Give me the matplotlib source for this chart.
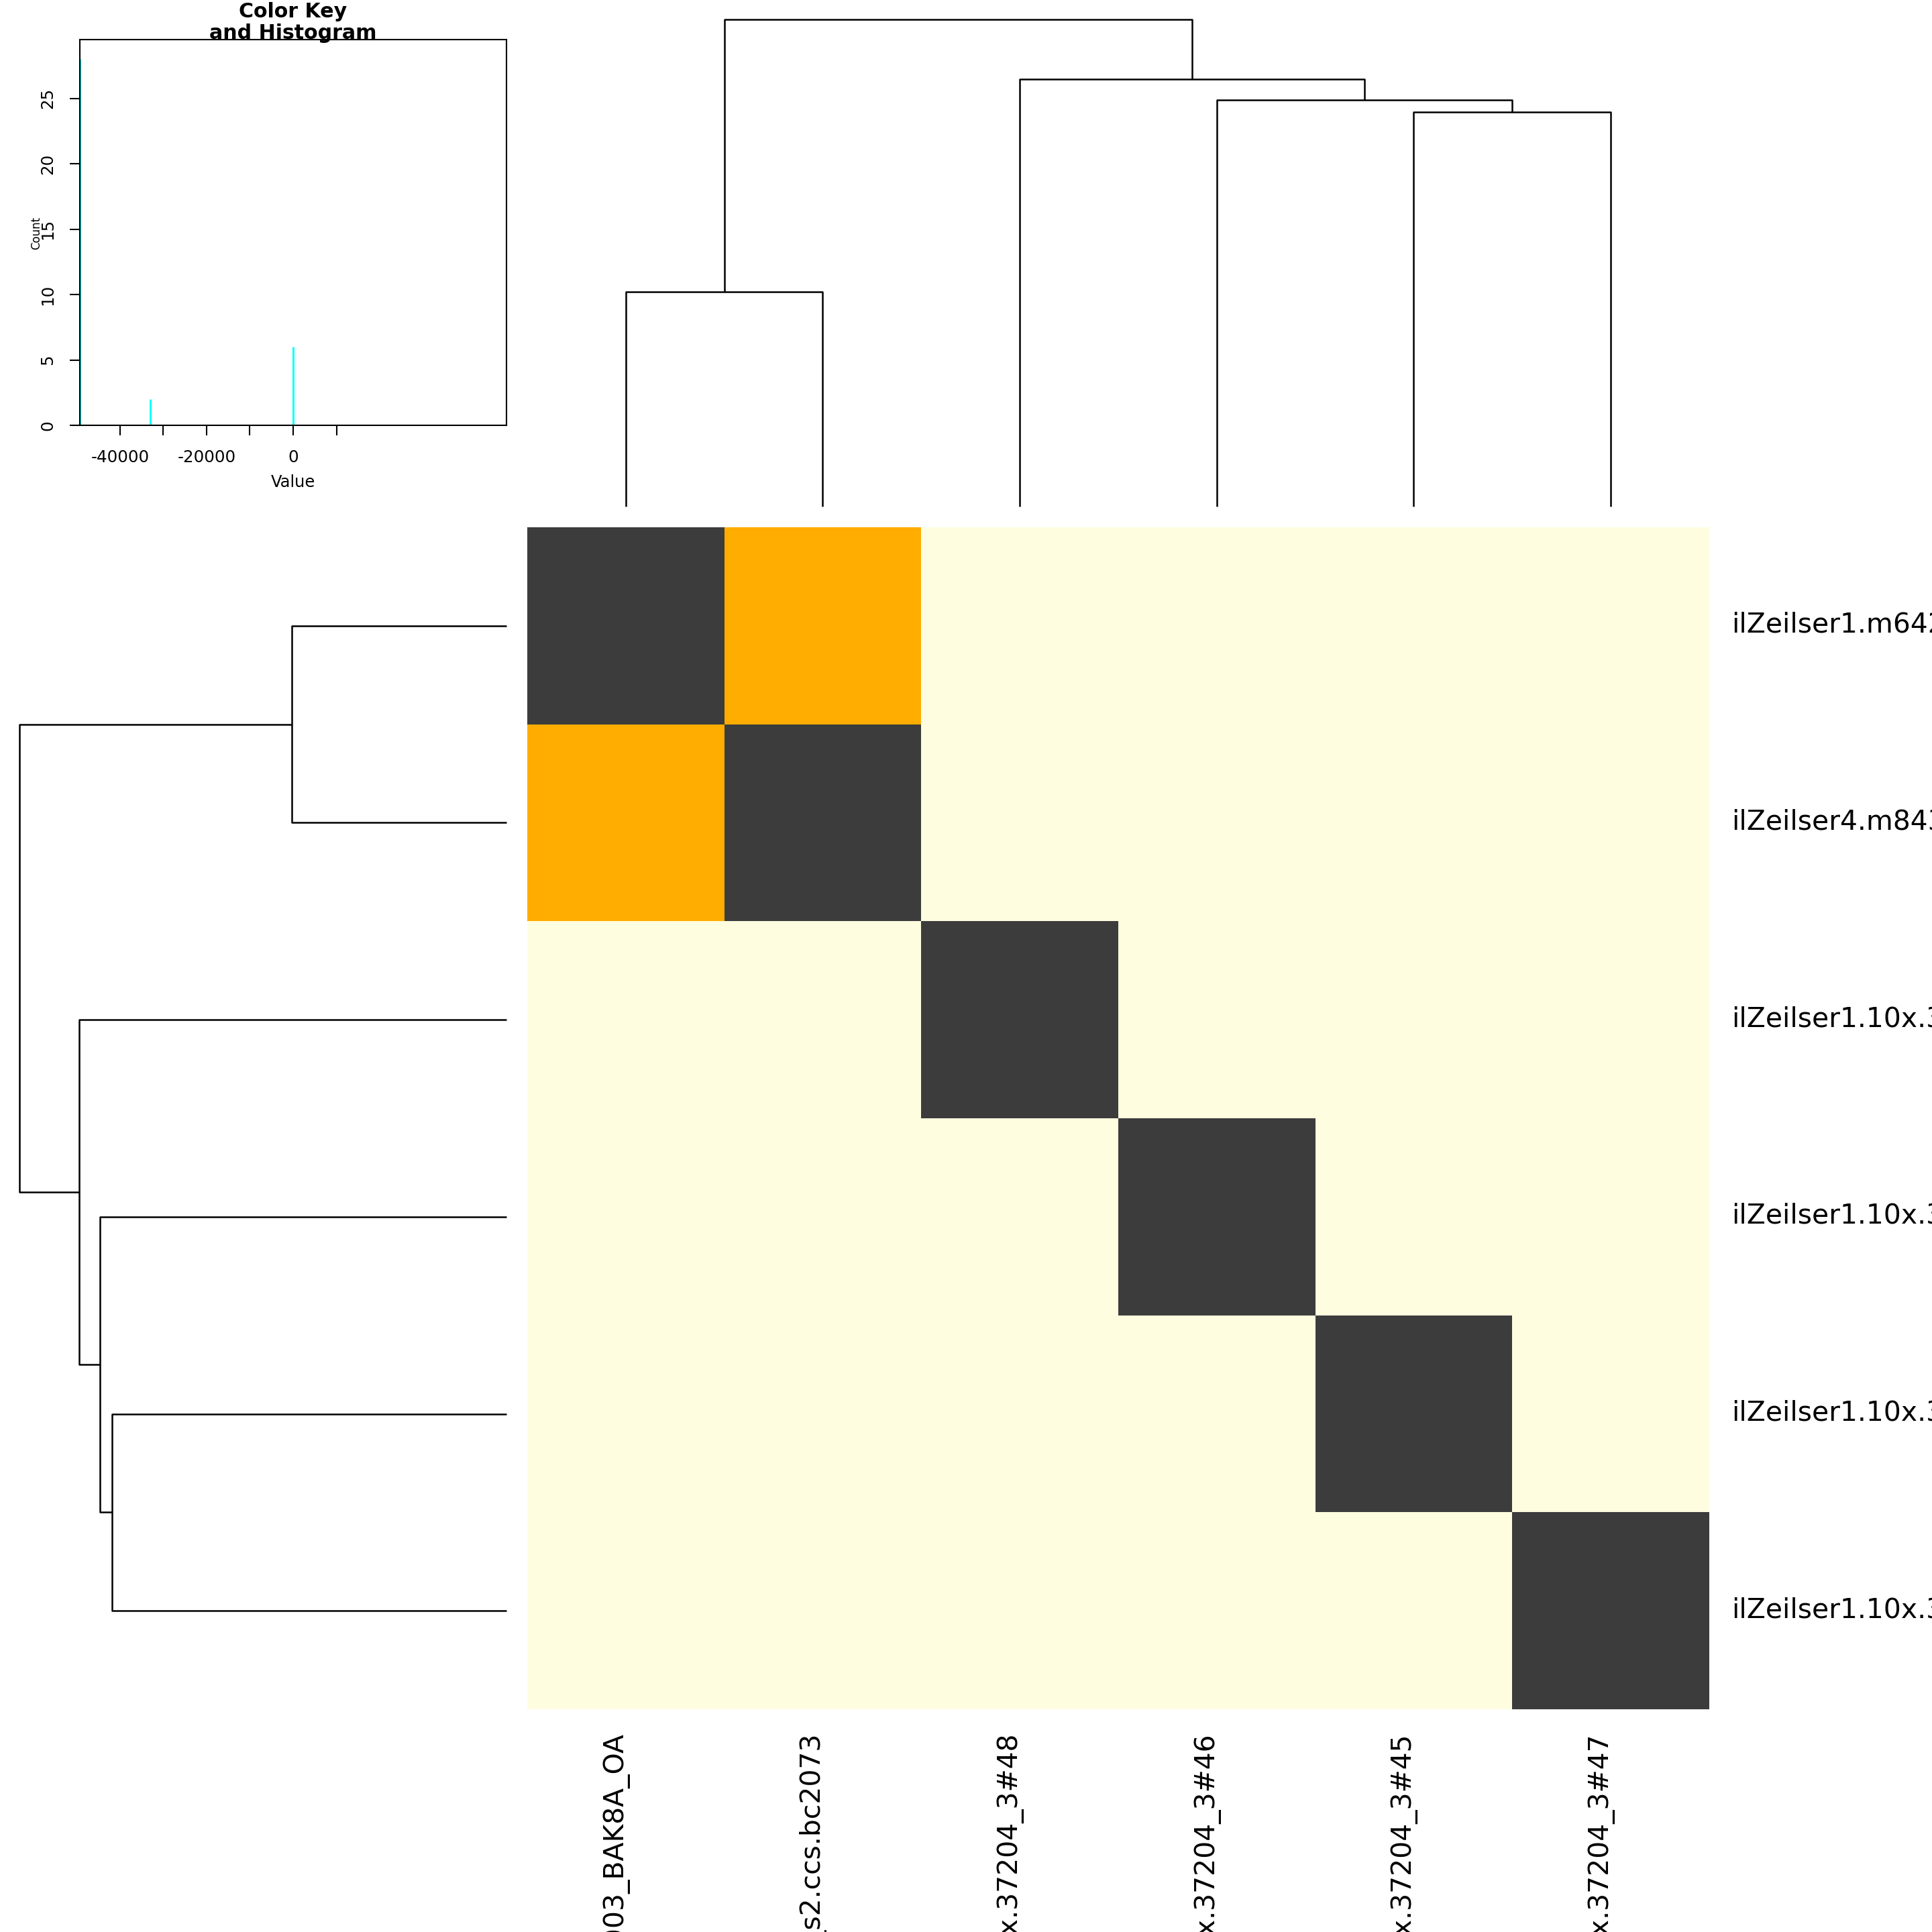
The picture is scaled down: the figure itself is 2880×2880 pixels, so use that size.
import matplotlib
matplotlib.use("Agg")
import matplotlib.pyplot as plt
import numpy as np
from matplotlib.colors import ListedColormap, BoundaryNorm

# etiquetas (iguais nas linhas e colunas, matriz simetrica)
row_labels = [
    "ilZeilser1.m64221e_230219_103003_BAK8A_OA",
    "ilZeilser4.m84315_240313_171419_s2.ccs.bc2073",
    "ilZeilser1.10x.37204_3#48",
    "ilZeilser1.10x.37204_3#46",
    "ilZeilser1.10x.37204_3#45",
    "ilZeilser1.10x.37204_3#47",
]
col_labels = list(row_labels)

Y = -49300
cell_values = [
    [0, -33000, Y, Y, Y, Y],
    [-33000, 0, Y, Y, Y, Y],
    [Y, Y, 0, Y, Y, Y],
    [Y, Y, Y, 0, Y, Y],
    [Y, Y, Y, Y, 0, Y],
    [Y, Y, Y, Y, Y, 0],
]

# dendrograma: (filho a, filho b, altura); ids >= 6 sao fusoes anteriores
merge_a = [0, 4, 3, 2, 6]
merge_b = [1, 5, 7, 8, 9]
merge_h = [46550, 85530, 88150, 92650, 105600]

key_breaks = [-49300, -41000, -16000, 49300]
key_colors = ["#FFFDE0", "#FFAD00", "#3C3C3C"]

hist_values = [-49300, -33000, 0]
hist_counts = [28, 2, 6]
key_xticks = [-40000, -30000, -20000, -10000, 0, 10000]
key_xlabels = ["-40000", "", "-20000", "", "0", ""]
key_yticks = [0, 5, 10, 15, 20, 25]

W = 2880.0


def box(left, top, right, bottom):
    return [left / W, 1 - bottom / W, (right - left) / W, (bottom - top) / W]


def draw_dendro(ax, n, top=True):
    pos = {i: i + 0.5 for i in range(n)}
    hgt = {i: 0.0 for i in range(n)}
    for k, (a, b, h) in enumerate(zip(merge_a, merge_b, merge_h)):
        xs = [pos[a], pos[a], pos[b], pos[b]]
        ys = [hgt[a], h, h, hgt[b]]
        if top:
            ax.plot(xs, ys, color="black", lw=0.6, clip_on=False, solid_capstyle="butt")
        else:
            ax.plot(ys, xs, color="black", lw=0.6, clip_on=False, solid_capstyle="butt")
        pos[n + k] = (pos[a] + pos[b]) / 2
        hgt[n + k] = h


fig = plt.figure(figsize=(9.6, 9.6), dpi=300)
n = len(row_labels)

# heatmap
ax = fig.add_axes(box(786, 786, 2548, 2548))
cmap = ListedColormap(key_colors)
norm = BoundaryNorm(key_breaks, cmap.N)
ax.pcolormesh(np.arange(n + 1), np.arange(n + 1), np.array(cell_values), cmap=cmap, norm=norm)
ax.set_xlim(0, n)
ax.set_ylim(n, 0)
ax.axis("off")
for i, lab in enumerate(row_labels):
    ax.text(n + 0.112, i + 0.5, lab, ha="left", va="center", fontsize=9.8, clip_on=False)
for j, lab in enumerate(col_labels):
    ax.text(j + 0.5 - 0.06, n + 0.112, lab, ha="center", va="top", rotation=90,
            fontsize=9.8, clip_on=False)

# dendrograma de cima
axt = fig.add_axes(box(786, 29, 2548, 755))
draw_dendro(axt, n, top=True)
axt.set_xlim(0, n)
axt.set_ylim(0, max(merge_h))
axt.axis("off")

# dendrograma da esquerda
axl = fig.add_axes(box(29, 786, 755, 2548))
draw_dendro(axl, n, top=False)
axl.set_xlim(max(merge_h), 0)
axl.set_ylim(n, 0)
axl.axis("off")

# color key e histograma
axk = fig.add_axes(box(119, 59, 755, 634))
axk.hlines(0, key_breaks[0], 0, color="cyan", lw=0.7)
axk.vlines(hist_values, 0, hist_counts, color="cyan", lw=0.7)
axk.set_xlim(key_breaks[0], key_breaks[-1])
axk.set_ylim(0, 29.5)
for s in axk.spines.values():
    s.set_linewidth(0.5)
axk.set_xticks(key_xticks)
axk.set_xticklabels(key_xlabels)
axk.set_yticks(key_yticks)
axk.set_yticklabels([str(v) for v in key_yticks], rotation=90, va="center")
axk.tick_params(length=3.7, width=0.5, labelsize=5.9, pad=5)
axk.tick_params(axis="y", pad=4.8)
fig.text(437 / W, 1 - 719 / W, "Value", ha="center", va="center", fontsize=5.8)
fig.text(54 / W, 1 - 347 / W, "Count", ha="center", va="center", rotation=90, fontsize=4)
fig.text(437 / W, 1 - 26 / W, "Color Key", ha="center", va="baseline",
         fontsize=7.2, fontweight="bold")
fig.text(437 / W, 1 - 58 / W, "and Histogram", ha="center", va="baseline",
         fontsize=7.2, fontweight="bold")

fig.savefig("out.png", dpi=300)
